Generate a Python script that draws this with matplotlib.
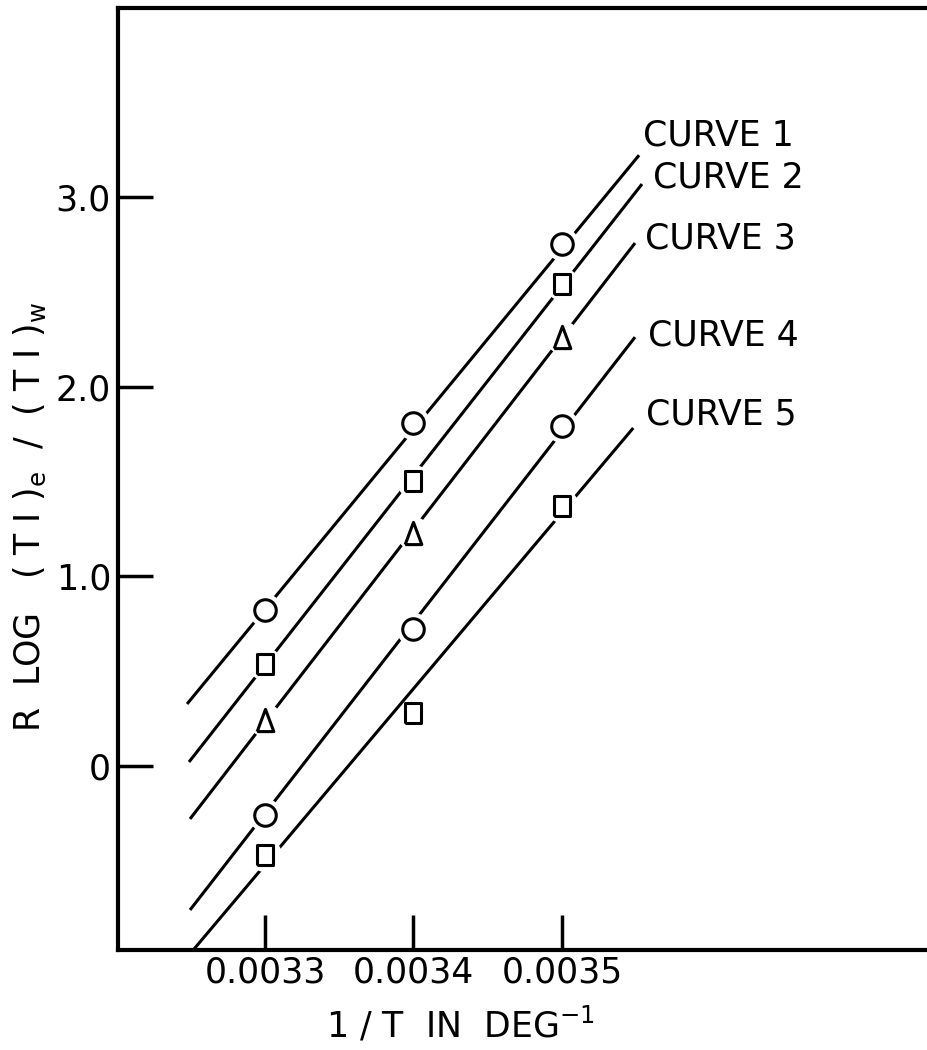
import numpy as np
import matplotlib.pyplot as plt

plt.rcParams['font.family'] = ['DejaVu Sans']

# measured points (1/T, R log (Tl)e/(Tl)w)
x_pts = [0.0033, 0.0034, 0.0035]
curve1 = [0.82, 1.81, 2.75]
curve2 = [0.54, 1.50, 2.54]
curve3 = [0.24, 1.23, 2.26]
curve4 = [-0.26, 0.72, 1.79]
curve5 = [-0.47, 0.28, 1.37]

# drawn straight lines (start, end)
line1_x = [0.0032475, 0.0035519]
line1_y = [0.327, 3.22]
line2_x = [0.0032488, 0.0035539]
line2_y = [0.021, 3.068]
line3_x = [0.0032495, 0.0035492]
line3_y = [-0.279, 2.757]
line4_x = [0.0032495, 0.0035492]
line4_y = [-0.759, 2.261]
line5_x = [0.0032495, 0.003548]
line5_y = [-0.99, 1.782]

curve_names = ['CURVE 1', 'CURVE 2', 'CURVE 3', 'CURVE 4', 'CURVE 5']
xtick_vals = [0.0033, 0.0034, 0.0035]
xtick_labels = ['0.0033', '0.0034', '0.0035']
ytick_vals = [0, 1, 2, 3]
ytick_labels = ['0', '1.0', '2.0', '3.0']

rect = [(-0.78, -1), (0.78, -1), (0.78, 1), (-0.78, 1), (-0.78, -1)]
tri = [(-0.75, -1), (0.75, -1), (0, 1), (-0.75, -1)]
markers = ['o', rect, tri, 'o', rect]
msizes = [15.5, 15, 16, 15.5, 15]
label_off = [(4, 20), (11, 7), (10, 5), (13, 2), (13, 13)]

fig = plt.figure(figsize=(9.28, 10.5), dpi=100)
ax = fig.add_axes([118 / 928, 1 - 950 / 1050, 1 - 118 / 928, 942 / 1050])

series = [curve1, curve2, curve3, curve4, curve5]
lines_x = [line1_x, line2_x, line3_x, line4_x, line5_x]
lines_y = [line1_y, line2_y, line3_y, line4_y, line5_y]

for ys, lx, ly, mk, ms, name, off in zip(series, lines_x, lines_y, markers, msizes,
                                        curve_names, label_off):
    ax.plot(lx, ly, color='black', lw=2.2, solid_capstyle='butt', zorder=2)
    # white gaps where the line passes through a point
    line_at = np.interp(x_pts, lx, ly)
    near = np.abs(np.array(ys) - line_at) < 0.1
    ax.plot(np.array(x_pts)[near], np.array(ys)[near], 'o', color='white',
            ms=24, mec='none', zorder=3)
    ax.plot(x_pts, ys, linestyle='none', marker=mk, ms=ms, mfc='white',
            mec='black', mew=2.2, zorder=4)
    ax.annotate(name, xy=(lx[1], ly[1]), xytext=off, textcoords='offset pixels',
                ha='left', va='center', fontsize=25)

ax.set_xlim(0.003201, 0.0037465)
ax.set_ylim(-0.970, 3.996)
ax.set_xticks(xtick_vals)
ax.set_xticklabels(xtick_labels)
ax.set_yticks(ytick_vals)
ax.set_yticklabels(ytick_labels)
ax.tick_params(direction='in', length=25, width=2.5, labelsize=25)
ax.tick_params(axis='x', pad=4)
ax.tick_params(axis='y', pad=5)
ax.spines['right'].set_visible(False)
for s in ['left', 'bottom', 'top']:
    ax.spines[s].set_linewidth(3)

fig.text(30 / 928, 1 - 517 / 1050,
         r'R  LOG   ( T I )$_\mathrm{e}$  /  ( T I )$_\mathrm{w}$',
         rotation=90, ha='center', va='center', fontsize=25)
fig.text(461 / 928, 1 - 1025 / 1050, r'1 / T  IN  DEG$^{-1}$',
         ha='center', va='center', fontsize=25)

plt.savefig('out.png', dpi=100)
